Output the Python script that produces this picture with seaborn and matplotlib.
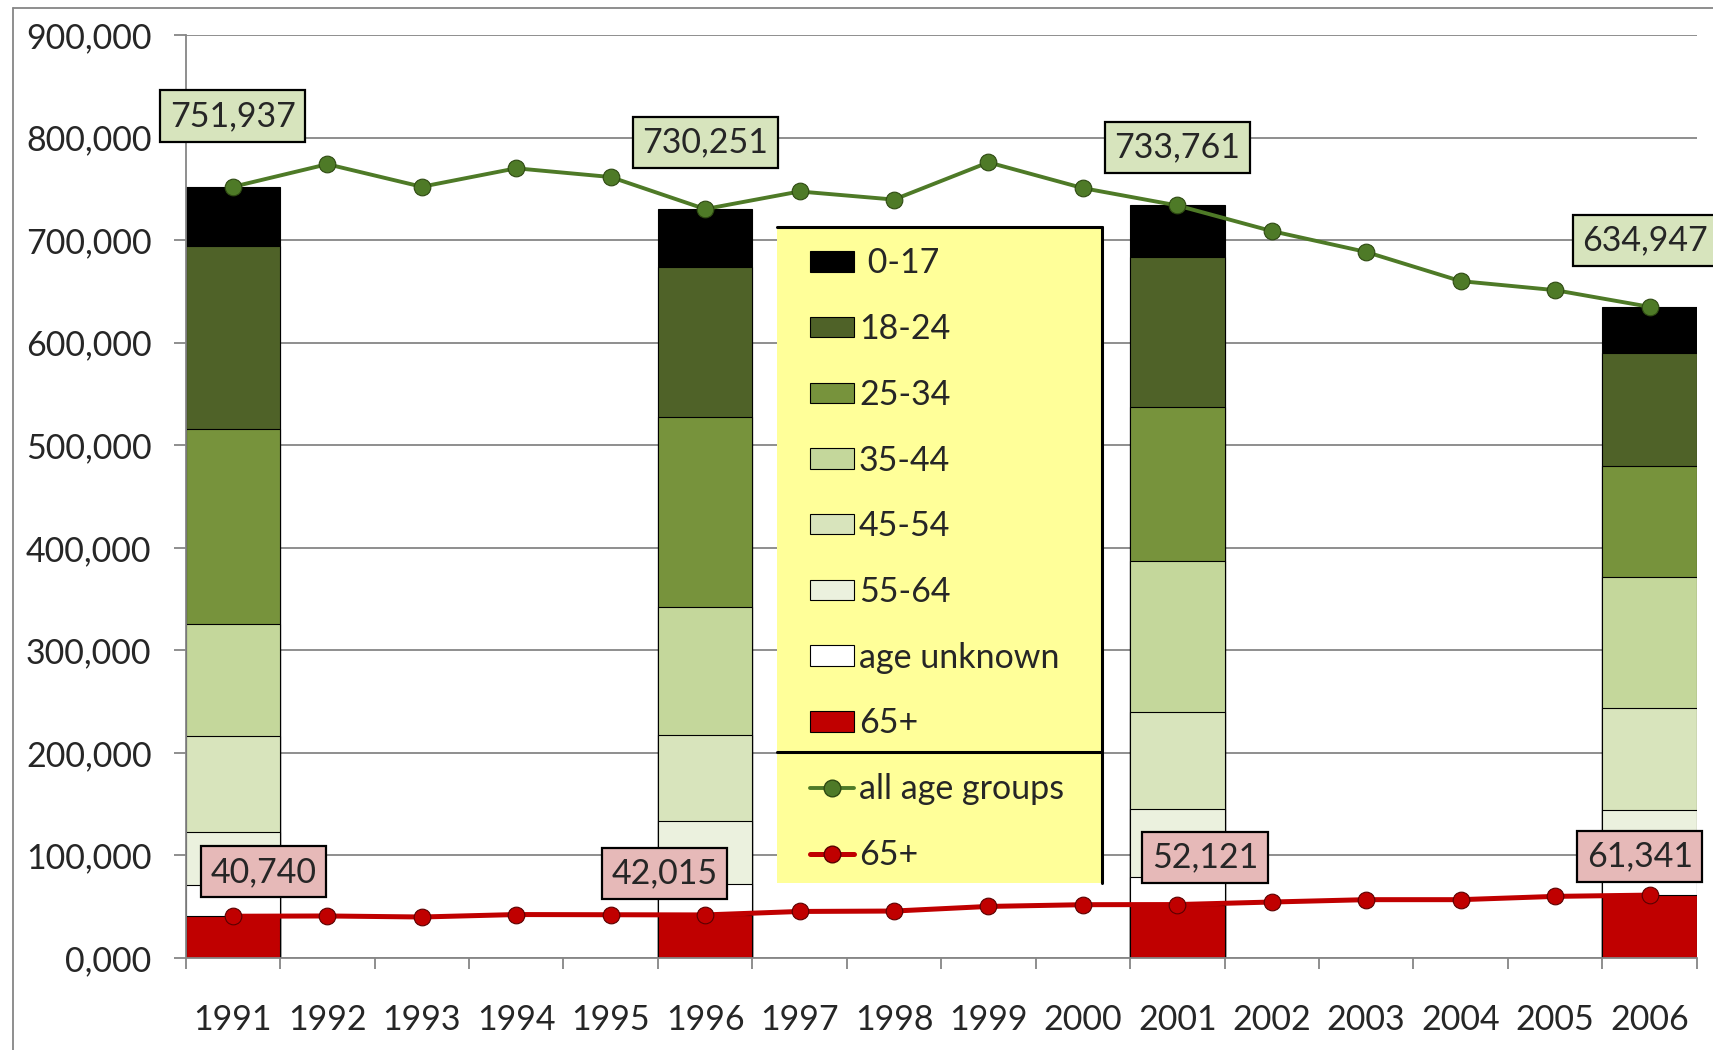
import numpy as np
import pandas as pd
import matplotlib
matplotlib.use("Agg")
import matplotlib.pyplot as plt
import seaborn as sns
from matplotlib.patches import Patch, Rectangle
from matplotlib.lines import Line2D

years = [str(y) for y in range(1991, 2007)]
bar_years = ["1991", "1996", "2001", "2006"]

# stacked age groups per bar year, bottom to top
age_groups = ["65+", "age unknown", "55-64", "45-54", "35-44", "25-34", "18-24", "0-17"]
age_65 = [40740, 42015, 52121, 61341]
age_unknown = [30000, 30400, 27300, 18700]
age_55_64 = [52600, 61600, 66200, 64700]
age_45_54 = [93400, 83700, 94400, 99000]
age_35_44 = [109000, 124200, 147000, 127500]
age_25_34 = [190200, 185500, 150200, 108300]
age_18_24 = [178500, 146100, 146100, 110700]
age_0_17 = [57497, 56736, 50440, 44706]

# line series for every year
total_all = [751937, 774000, 752000, 770000, 761500, 730251, 747400, 739500,
             775800, 750700, 733761, 708800, 688400, 660000, 651200, 634947]
total_65 = [40740, 41000, 40000, 42400, 42200, 42015, 45400, 45800,
            50300, 52000, 52121, 54600, 56900, 56900, 60100, 61341]

y_ticks = [0, 100000, 200000, 300000, 400000, 500000, 600000, 700000, 800000, 900000]
y_labels = ["0,000", "100,000", "200,000", "300,000", "400,000",
            "500,000", "600,000", "700,000", "800,000", "900,000"]

colors = {
    "0-17": "#000000",
    "18-24": "#4F6228",
    "25-34": "#77933C",
    "35-44": "#C4D79B",
    "45-54": "#D8E4BC",
    "55-64": "#EBF1DE",
    "age unknown": "#FFFFFF",
    "65+": "#C00000",
}
green = "#4E7A27"
red = "#C00000"
grey = "#868686"
fs = 24.5

# label offsets (points) for the boxed values
all_offsets = [(0, 51), (0, 48), (0, 42), (-3, 48)]
old_offsets = [(22, 32), (-29, 30), (20, 34), (-7, 28)]

sns.set_style("white")
plt.rcParams["font.family"] = ["Lato", "DejaVu Sans"]

fig = plt.figure(figsize=(17.13, 10.5), dpi=100)
ax = fig.add_axes([0.1084, 0.0876, 0.8821, 0.8791])

# stacked bars: draw cumulative heights from the top layer down
layers = [age_65, age_unknown, age_55_64, age_45_54, age_35_44, age_25_34, age_18_24, age_0_17]
cum = np.cumsum(np.array(layers), axis=0)
for name, top in reversed(list(zip(age_groups, cum))):
    df = pd.DataFrame({"year": bar_years, "value": top})
    sns.barplot(data=df, x="year", y="value", order=years, color=colors[name],
                saturation=1, width=1.0, edgecolor="black", linewidth=0.8,
                errorbar=None, ax=ax, zorder=2)

line_df = pd.DataFrame({"year": years, "all": total_all, "old": total_65})
sns.pointplot(data=line_df, x="year", y="all", order=years, color=green,
              markers="o", errorbar=None, ax=ax, linewidth=2.8, markersize=12,
              markeredgecolor="#2E4A12", markeredgewidth=0.8, zorder=5)
sns.pointplot(data=line_df, x="year", y="old", order=years, color=red,
              markers="o", errorbar=None, ax=ax, linewidth=3.6, markersize=12,
              markeredgecolor="#5A0000", markeredgewidth=0.8, zorder=5)

for i, yr in enumerate(bar_years):
    x = years.index(yr)
    ax.annotate(f"{total_all[x]:,}", xy=(x, total_all[x]), xytext=all_offsets[i],
                textcoords="offset points", ha="center", va="center", fontsize=fs,
                bbox=dict(boxstyle="square,pad=0.28", fc="#D7E4BD", ec="black", lw=1.6),
                zorder=10, annotation_clip=False)
    ax.annotate(f"{total_65[x]:,}", xy=(x, total_65[x]), xytext=old_offsets[i],
                textcoords="offset points", ha="center", va="center", fontsize=fs,
                bbox=dict(boxstyle="square,pad=0.28", fc="#E6B9B8", ec="black", lw=1.6),
                zorder=10, annotation_clip=False)

ax.set_xlim(-0.5, 15.5)
ax.set_ylim(0, 900000)
ax.set_yticks(y_ticks)
ax.set_yticklabels(y_labels)
ax.set_xticks(range(len(years)))
ax.set_xticklabels(years)
ax.set_xticks(np.arange(-0.5, len(years), 1), minor=True)
ax.set_xlabel("")
ax.set_ylabel("")
ax.tick_params(axis="y", length=8.6, width=1.3, color=grey, pad=16, labelsize=fs,
               direction="out", left=True)
ax.tick_params(axis="x", which="major", length=0, pad=33, labelsize=fs)
ax.tick_params(axis="x", which="minor", length=8, width=1.3, color=grey,
               direction="out", bottom=True)
ax.yaxis.grid(True, color=grey, linewidth=1.3)
ax.set_axisbelow(True)
for side in ["top", "right"]:
    ax.spines[side].set_visible(False)
for side in ["left", "bottom"]:
    ax.spines[side].set_color(grey)
    ax.spines[side].set_linewidth(1.3)

# legend box (yellow, top/right border and a separator)
fig.add_artist(Rectangle((0.4536, 0.159), 0.1899, 0.6248, transform=fig.transFigure,
                         facecolor="#FFFF99", edgecolor="none", zorder=4))
fig.add_artist(Line2D([0.4536, 0.6435], [0.7838, 0.7838], transform=fig.transFigure,
                      color="black", lw=2.2, zorder=4.5))
fig.add_artist(Line2D([0.6435, 0.6435], [0.159, 0.7838], transform=fig.transFigure,
                      color="black", lw=2.2, zorder=4.5))
fig.add_artist(Line2D([0.4536, 0.6435], [0.2842, 0.2842], transform=fig.transFigure,
                      color="black", lw=2.2, zorder=4.5))

legend_order = ["0-17", "18-24", "25-34", "35-44", "45-54", "55-64", "age unknown", "65+"]
handles = [Patch(facecolor=colors[g], edgecolor="black", linewidth=0.8) for g in legend_order]
handles += [Line2D([], [], color=green, lw=2.8, marker="o", markersize=12,
                   markeredgecolor="#2E4A12"),
            Line2D([], [], color=red, lw=3.6, marker="o", markersize=12,
                   markeredgecolor="#5A0000")]
labels = [" 0-17"] + legend_order[1:] + ["all age groups", "65+"]
fig.legend(handles, labels, loc="upper left", bbox_to_anchor=(0.4726, 0.7643),
           frameon=False, fontsize=fs, labelspacing=0.99, handlelength=1.3,
           handleheight=0.55, handletextpad=0.15, borderpad=0, borderaxespad=0)

# outer chart border
fig.add_artist(Line2D([0.0076, 0.0076], [0, 0.9928], transform=fig.transFigure,
                      color=grey, lw=1.3))
fig.add_artist(Line2D([0.0076, 1.0], [0.9928, 0.9928], transform=fig.transFigure,
                      color=grey, lw=1.3))

fig.savefig("out.png", dpi=100)
